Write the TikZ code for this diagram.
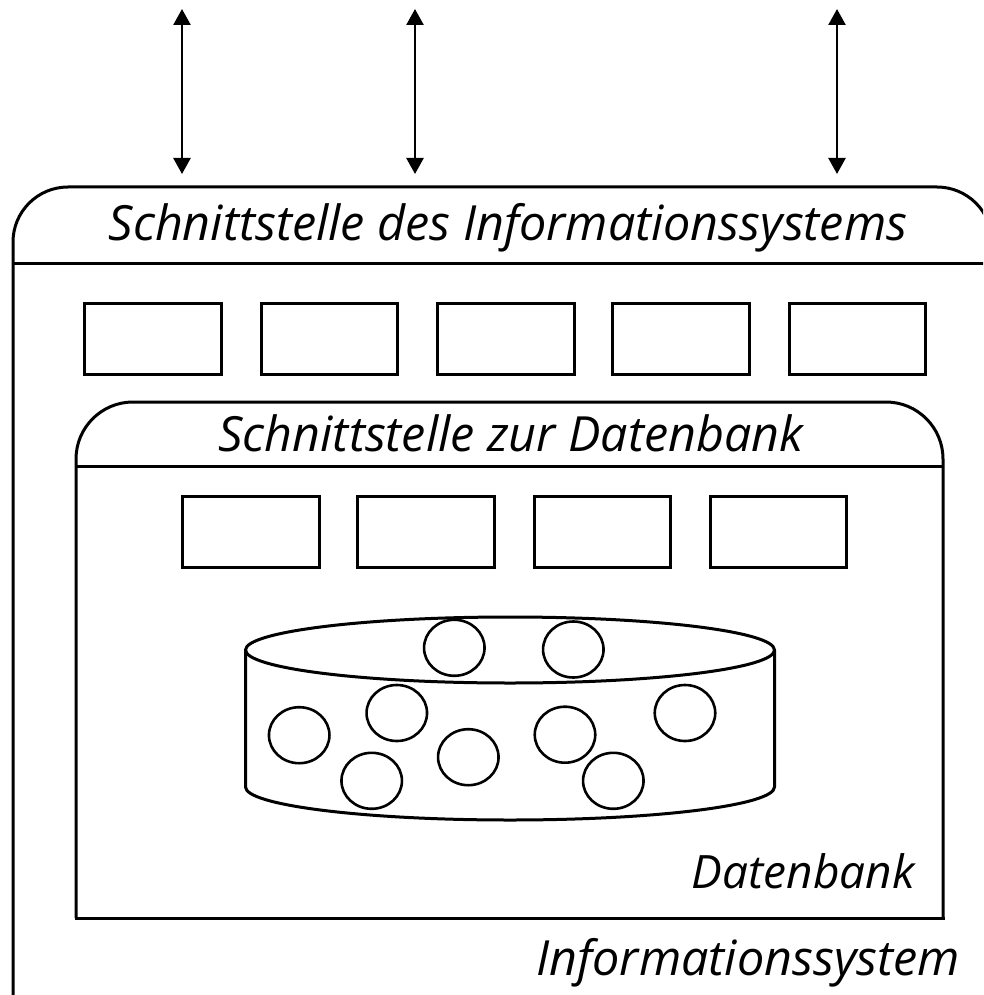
\documentclass[tikz,border=0pt]{standalone}
\usepackage{fontspec}
\setmainfont{Open Sans}
\usetikzlibrary{arrows.meta,shapes.geometric}
\begin{document}
\begin{tikzpicture}[x=1pt,y=-1pt,
  frame/.style={line width=3pt, line join=round},
  slot/.style={draw, line width=3pt, rectangle, inner sep=0pt, minimum width=136.5pt, minimum height=71pt},
  datum/.style={draw, line width=2.6pt, ellipse, inner sep=0pt, minimum width=60.5pt, minimum height=56pt},
  label/.style={font=\fontsize{48.5}{54}\selectfont\itshape, inner sep=0pt},
  small label/.style={font=\fontsize{46}{52}\selectfont\itshape, inner sep=0pt},
  link/.style={line width=2.5pt, {Triangle[length=16pt,width=17pt]}-{Triangle[length=16pt,width=17pt]}}
]
\useasboundingbox (0,0) rectangle (983,995);
\clip (0,0) rectangle (983,995);
\fill[white] (0,0) rectangle (983,995);

% outer frame (information system)
\draw[frame, rounded corners=55pt] (13,1010) -- (13,187) -- (992,187) -- (992,1010);
\draw[frame] (13,263) -- (992,263);

% inner frame (database)
\draw[frame, rounded corners=57pt] (76,918) -- (76,402) -- (943,402) -- (943,918);
\draw[frame, line cap=rect] (76,918) -- (943,918);
\draw[frame] (76,466) -- (943,466);

% labels
\node[label, anchor=base] (lis) at (508,240) {Schnittstelle des Informationssystems};
\node[label, anchor=base] (ldb) at (511,451) {Schnittstelle zur Datenbank};
\node[small label, anchor=base east] (ndb) at (915,888) {Datenbank};
\node[label, anchor=base east] (nis) at (960,975) {Informationssystem};

% first row of boxes
\node[slot] (a1) at (153,338.7) {};
\node[slot] (a2) at (329.7,338.7) {};
\node[slot] (a3) at (505.8,338.7) {};
\node[slot] (a4) at (680.8,338.7) {};
\node[slot] (a5) at (857.5,338.7) {};

% second row of boxes
\node[slot] (b1) at (250.8,531.5) {};
\node[slot] (b2) at (425.8,531.5) {};
\node[slot] (b3) at (602.7,531.5) {};
\node[slot] (b4) at (778.7,531.5) {};

% cylinder
\draw[frame] (510,650) ellipse[x radius=264.5, y radius=33];
\draw[frame] (245.5,650) -- (245.5,787)
  arc[start angle=180, end angle=0, x radius=264.5, y radius=33] -- (774.5,650);

% data items
\node[datum] (d1) at (454.3,647.8) {};
\node[datum] (d2) at (573.3,649.5) {};
\node[datum] (d3) at (396.8,713) {};
\node[datum] (d4) at (299.2,735.2) {};
\node[datum] (d5) at (371.7,780.8) {};
\node[datum] (d6) at (468.3,757.2) {};
\node[datum] (d7) at (565,734.7) {};
\node[datum] (d8) at (613.3,780.8) {};
\node[datum] (d9) at (685,713) {};

% arrows
\coordinate (t1) at (182,9);
\coordinate (t2) at (415,9);
\coordinate (t3) at (837,9);
\coordinate (u1) at (182,174);
\coordinate (u2) at (415,174);
\coordinate (u3) at (837,174);
\draw[link] (t1) -- (u1);
\draw[link] (t2) -- (u2);
\draw[link] (t3) -- (u3);
\end{tikzpicture}
\end{document}
